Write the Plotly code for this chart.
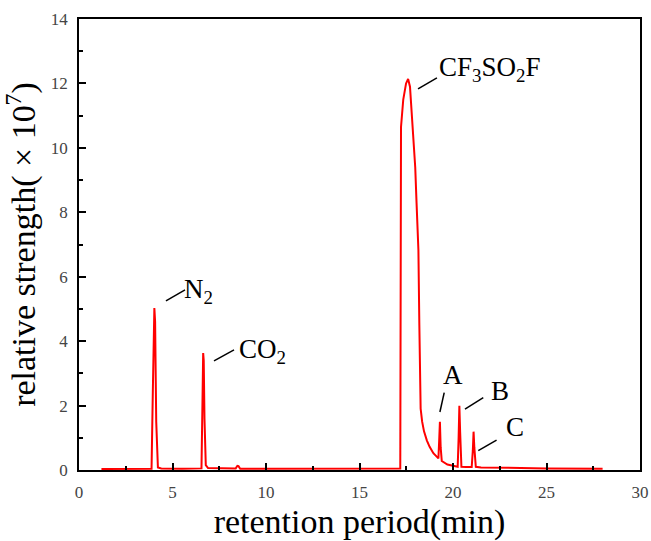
import plotly.graph_objects as go

# retention time (min) and relative strength (x10^7)
time_min = [1.2, 3.0, 3.88, 3.95, 4.0, 4.03, 4.07, 4.13, 4.22, 4.4, 5.5,
            6.55, 6.6, 6.64, 6.67, 6.71, 6.78, 6.9, 8.0, 8.38, 8.47, 8.53, 8.62,
            10.8, 14.6, 17.18,
            17.22, 17.34, 17.49, 17.6, 17.7, 17.75, 17.88, 17.98, 18.05, 18.15,
            18.2, 18.23, 18.27, 18.35, 18.45, 18.6, 18.75, 18.95, 19.1, 19.22,
            19.26, 19.3, 19.34, 19.4, 19.7, 20.0, 20.25,
            20.3, 20.34, 20.38, 20.45, 20.7, 21.0,
            21.06, 21.1, 21.14, 21.22, 21.5, 23.0, 25.0, 28.0]
strength = [0.03, 0.03, 0.04, 2.5, 4.9, 5.03, 4.6, 1.5, 0.08, 0.05, 0.04,
            0.05, 2.0, 3.63, 3.4, 1.6, 0.15, 0.06, 0.04, 0.05, 0.13, 0.12, 0.04,
            0.04, 0.05, 0.05,
            10.65, 11.5, 12.0, 12.14, 11.9, 11.5, 10.45, 9.4, 8.3, 6.83,
            4.5, 2.6, 1.9, 1.5, 1.2, 0.92, 0.72, 0.52, 0.42, 0.36,
            0.9, 1.5, 0.7, 0.28, 0.17, 0.12, 0.1,
            1.0, 1.99, 1.2, 0.1, 0.09, 0.09,
            0.6, 1.19, 0.7, 0.1, 0.08, 0.06, 0.05, 0.04]

x_ticks = [0, 5, 10, 15, 20, 25, 30]
y_ticks = [0, 2, 4, 6, 8, 10, 12, 14]

# peak labels: text, text position, leader start, leader end
labels = ["N<sub>2</sub>", "CO<sub>2</sub>", "CF<sub>3</sub>SO<sub>2</sub>F", "A", "B", "C"]
label_x = [6.4, 9.8, 21.95, 20.0, 22.5, 23.3]
label_y = [5.55, 3.7, 12.45, 2.95, 2.45, 1.35]
lead_x0 = [4.65, 7.22, 18.13, 19.3, 20.64, 21.35]
lead_y0 = [5.25, 3.39, 11.83, 1.8, 1.89, 0.6]
lead_x1 = [5.67, 8.29, 19.14, 19.53, 21.62, 22.33]
lead_y1 = [5.59, 3.73, 12.17, 2.4, 2.25, 0.93]

serif = "Liberation Serif"

fig = go.Figure()
fig.add_trace(go.Scatter(x=time_min, y=strength, mode="lines",
                         line=dict(color="#ff0000", width=2), showlegend=False))

for i in range(len(labels)):
    fig.add_shape(type="line", x0=lead_x0[i], y0=lead_y0[i], x1=lead_x1[i], y1=lead_y1[i],
                  xref="x", yref="y", line=dict(color="black", width=1.5))
    fig.add_annotation(x=label_x[i], y=label_y[i], text=labels[i], showarrow=False,
                       xref="x", yref="y", font=dict(family=serif, size=27, color="black"))

axis_common = dict(
    showline=True, linecolor="black", linewidth=1.5, mirror=True,
    ticks="inside", ticklen=7, tickwidth=1.5, tickcolor="black",
    showgrid=False, zeroline=False, automargin=False,
    tickfont=dict(family=serif, size=17, color="#444444"),
)

fig.update_xaxes(range=[0, 30], tickvals=x_ticks, ticklabelstandoff=6,
                 minor=dict(ticks="inside", ticklen=4, tickwidth=1.5, dtick=2.5, tick0=0, tickcolor="black"),
                 title=dict(text="retention period(min)", font=dict(family=serif, size=34, color="black"), standoff=8),
                 **axis_common)
fig.update_yaxes(range=[0, 14], tickvals=y_ticks, ticklabelstandoff=6,
                 minor=dict(ticks="inside", ticklen=4, tickwidth=1.5, dtick=1, tick0=0, tickcolor="black"),
                 title=dict(text="relative strength( \u00d7 10<sup>7</sup>)", font=dict(family=serif, size=34, color="black"), standoff=8),
                 **axis_common)

fig.update_layout(width=651, height=541, margin=dict(l=79, r=11, t=19, b=71),
                  paper_bgcolor="white", plot_bgcolor="white")

# remove the default page margin so the figure fills the 651x541 window exactly
fig.write_html("out.html", config={"displayModeBar": False},
               post_script="document.body.style.margin='0';document.body.style.overflow='hidden';")
